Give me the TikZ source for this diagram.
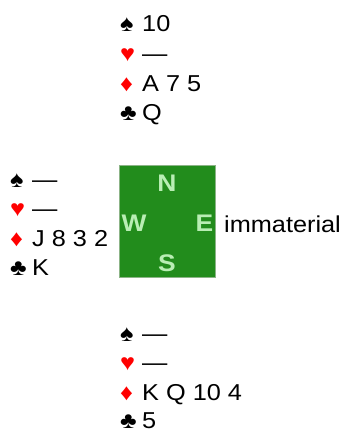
\documentclass[tikz,border=0pt]{standalone}
\usepackage{fontspec}
\setmainfont{Liberation Sans}[FakeStretch=1.1]
\definecolor{suitred}{RGB}{255,0,0}
\definecolor{tablegreen}{RGB}{34,140,28}
\definecolor{tableedge}{RGB}{140,180,135}
\definecolor{letgreen}{RGB}{185,238,180}
\newcommand{\sS}{\makebox[22pt][l]{♠}}
\newcommand{\sH}{\makebox[22pt][l]{\textcolor{suitred}{♥}}}
\newcommand{\sD}{\makebox[22pt][l]{\textcolor{suitred}{♦}}}
\newcommand{\sC}{\makebox[22pt][l]{♣}}
\begin{document}
\begin{tikzpicture}[x=1pt,y=-1pt]
\tikzset{
  row/.style={anchor=base west, inner sep=0pt, font=\fontsize{23}{27}\selectfont},
  dir/.style={inner sep=0pt, text=letgreen, font=\fontsize{24}{28}\selectfont\bfseries},
  tablebox/.style={draw=tableedge, line width=0.8pt, fill=tablegreen, minimum width=96pt, minimum height=112pt, inner sep=0pt}
}
\useasboundingbox (0,0) rectangle (348,432);
% North
\node[row] (n1) at (120,31) {\sS 10};
\node[row] (n2) at (120,61) {\sH —};
\node[row] (n3) at (120,91) {\sD A 7 5};
\node[row] (n4) at (120,120.5) {\sC Q};
% West
\node[row] (w1) at (10,187) {\sS —};
\node[row] (w2) at (10,216.5) {\sH —};
\node[row] (w3) at (10,246) {\sD J 8 3 2};
\node[row] (w4) at (10,275.5) {\sC K};
% South
\node[row] (s1) at (120,341) {\sS —};
\node[row] (s2) at (120,370.5) {\sH —};
\node[row] (s3) at (120,400) {\sD K Q 10 4};
\node[row] (s4) at (120,428.5) {\sC 5};
% Table
\node[tablebox] (table) at (167.5,221.5) {};
\node[dir, anchor=base] (dn) at (167,191.5) {N};
\node[dir, anchor=base west] (dw) at (121.5,231.5) {W};
\node[dir, anchor=base east] (de) at (213.5,231.5) {E};
\node[dir, anchor=base] (ds) at (167,271) {S};
% East
\node[row] (east) at (224,232) {immaterial};
\end{tikzpicture}
\end{document}
